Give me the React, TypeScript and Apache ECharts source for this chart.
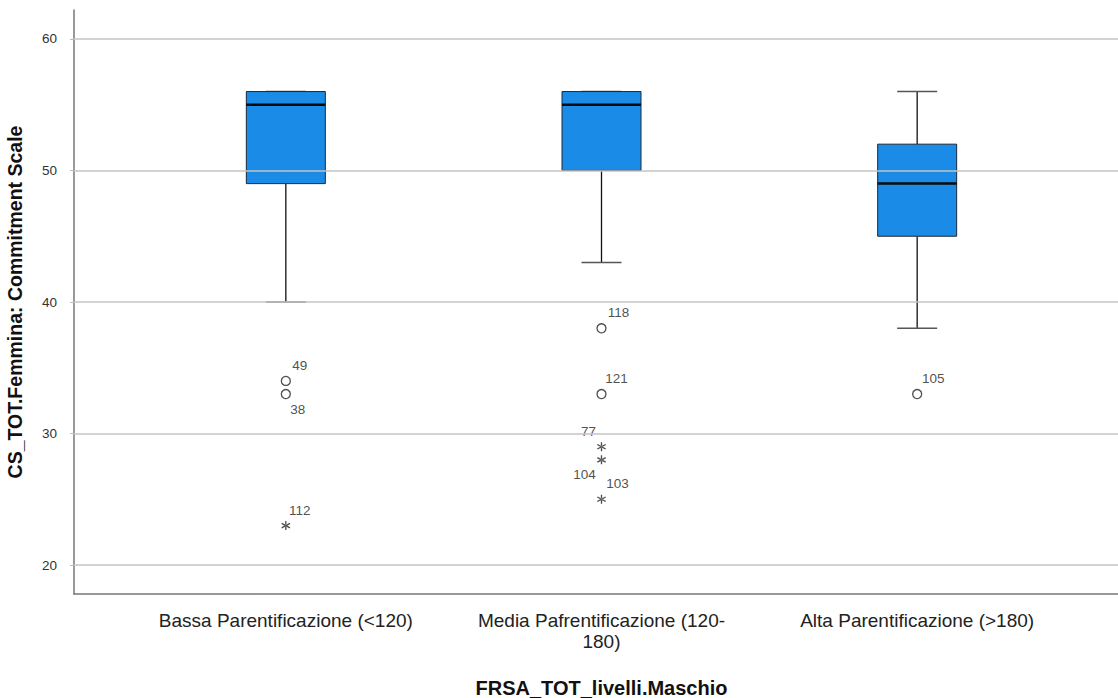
import React, { useEffect, useRef } from "react";
import * as echarts from "echarts";

const categories = [
  "Bassa Parentificazione (<120)",
  "Media Pafrentificazione (120-\n180)",
  "Alta Parentificazione (>180)",
];
// [low whisker, Q1, median, Q3, high whisker]
const boxValues = [
  [40, 49, 55, 56, 56],
  [43, 50, 55, 56, 56],
  [38, 45, 49, 52, 56],
];
// outliers: [categoryIndex, value, caseId]
const outliers = [
  [0, 34, "49"],
  [0, 33, "38"],
  [1, 38, "118"],
  [1, 33, "121"],
  [2, 33, "105"],
];
const extremes = [
  [0, 23, "112"],
  [1, 29, "77"],
  [1, 28, "104"],
  [1, 25, "103"],
];
const yTicks = [20, 30, 40, 50, 60];
const labelOffsets: Record<string, [number, number]> = {
  "49": [14, -15],
  "38": [12, 15],
  "112": [14, -15],
  "118": [17, -16],
  "121": [15, -16],
  "77": [-13, -15],
  "104": [-17, 15],
  "103": [16, -16],
  "105": [16, -16],
};

const Y_MIN = 17.8;
const Y_MAX = 62.2;
const asterisk =
  "path://M4.3 0 L5.7 0 L5.7 10 L4.3 10 Z M9.03 8.12 L9.73 6.88 L0.97 1.88 L0.27 3.12 Z M0.27 6.88 L0.97 8.12 L9.73 3.12 L9.03 1.88 Z";
const FONT = "Liberation Sans, Arial, sans-serif";

export default function App() {
  const ref = useRef<HTMLDivElement>(null);
  useEffect(() => {
    if (!ref.current) return;
    const chart = echarts.init(ref.current, null, { renderer: "svg" });
    const mkPoints = (arr: any[]) =>
      arr.map((o) => ({
        value: [o[0], o[1]],
        label: {
          show: true,
          formatter: o[2],
          position: "inside",
          offset: labelOffsets[o[2]],
          color: "#222",
          fontSize: 13.5,
          fontFamily: FONT,
        },
      }));
    chart.setOption({
      animation: false,
      backgroundColor: "#fff",
      grid: [
        { left: 74, right: 0, top: 10, bottom: 104, outerBoundsMode: "none", containLabel: false },
        { left: 128, right: 43, top: 10, bottom: 104, outerBoundsMode: "none", containLabel: false },
      ],
      xAxis: [
        {
          gridIndex: 0,
          type: "value",
          min: 0,
          max: 1,
          axisLine: { show: true, lineStyle: { color: "#777", width: 1.5 } },
          axisTick: { show: false },
          axisLabel: { show: false },
          splitLine: { show: false },
        },
        {
          gridIndex: 1,
          type: "category",
          data: categories,
          axisLine: { show: false },
          axisTick: { show: false },
          axisLabel: {
            interval: 0,
            hideOverlap: false,
            color: "#222",
            fontSize: 19,
            fontFamily: FONT,
            margin: 16,
            lineHeight: 21,
          },
          name: "FRSA_TOT_livelli.Maschio",
          nameLocation: "middle",
          nameGap: 84,
          nameTextStyle: {
            color: "#111",
            fontSize: 20,
            fontWeight: "bold",
            fontFamily: FONT,
          },
        },
      ],
      yAxis: [
        {
          gridIndex: 0,
          type: "value",
          min: Y_MIN,
          max: Y_MAX,
          axisLine: { show: true, lineStyle: { color: "#777", width: 1.5 } },
          axisTick: { show: true, customValues: yTicks, length: 4, lineStyle: { color: "#bbb" } },
          axisLabel: {
            customValues: yTicks,
            color: "#333",
            fontSize: 13.5,
            fontFamily: FONT,
            margin: 17,
          },
          splitLine: { show: false },
          name: "CS_TOT.Femmina: Commitment Scale",
          nameLocation: "middle",
          nameGap: 49,
          nameTextStyle: {
            color: "#111",
            fontSize: 19.5,
            fontWeight: "bold",
            fontFamily: FONT,
          },
        },
        {
          gridIndex: 1,
          type: "value",
          min: Y_MIN,
          max: Y_MAX,
          show: false,
          splitLine: { show: false },
        },
      ],
      series: [
        {
          type: "line",
          xAxisIndex: 0,
          yAxisIndex: 0,
          data: [],
          markLine: {
            silent: true,
            symbol: "none",
            label: { show: false },
            lineStyle: { color: "#c4c4c4", width: 1.5, type: "solid" },
            data: yTicks.map((t) => ({ yAxis: t })),
          },
        },
        {
          type: "custom",
          xAxisIndex: 1,
          yAxisIndex: 1,
          data: boxValues.map((b, i) => [i, ...b]),
          encode: { x: 0, y: [1, 2, 3, 4, 5] },
          renderItem: (params: any, api: any) => {
            const i = api.value(0);
            const lo = api.coord([i, api.value(1)]);
            const q1 = api.coord([i, api.value(2)]);
            const md = api.coord([i, api.value(3)]);
            const q3 = api.coord([i, api.value(4)]);
            const hi = api.coord([i, api.value(5)]);
            const x = lo[0];
            const bw = 79;
            const cw = 40;
            return {
              type: "group",
              children: [
                {
                  type: "line",
                  shape: { x1: x, y1: lo[1], x2: x, y2: q1[1] },
                  style: { stroke: "#111", lineWidth: 1.3 },
                },
                {
                  type: "line",
                  shape: { x1: x, y1: hi[1], x2: x, y2: q3[1] },
                  style: { stroke: "#111", lineWidth: 1.3 },
                },
                {
                  type: "line",
                  shape: { x1: x - cw / 2, y1: lo[1], x2: x + cw / 2, y2: lo[1] },
                  style: { stroke: "#555", lineWidth: 1.5 },
                },
                {
                  type: "line",
                  shape: { x1: x - cw / 2, y1: hi[1], x2: x + cw / 2, y2: hi[1] },
                  style: { stroke: "#555", lineWidth: 1.5 },
                },
                {
                  type: "rect",
                  shape: { x: x - bw / 2, y: q3[1], width: bw, height: q1[1] - q3[1] },
                  style: { fill: "#1a8be6", stroke: "#1b2a3a", lineWidth: 1 },
                },
                {
                  type: "line",
                  shape: { x1: x - bw / 2, y1: md[1], x2: x + bw / 2, y2: md[1] },
                  style: { stroke: "#0a0a0a", lineWidth: 2.5 },
                },
              ],
            };
          },
        },
        {
          type: "scatter",
          xAxisIndex: 1,
          yAxisIndex: 1,
          symbol: "circle",
          symbolSize: 9,
          itemStyle: { color: "#fff", borderColor: "#222", borderWidth: 1.3 },
          data: mkPoints(outliers),
        },
        {
          type: "scatter",
          xAxisIndex: 1,
          yAxisIndex: 1,
          symbol: asterisk,
          symbolSize: 9,
          itemStyle: { color: "#222" },
          data: mkPoints(extremes),
        },
      ],
    });
    return () => chart.dispose();
  }, []);
  return <div ref={ref} style={{ width: 1118, height: 698, position: "absolute", left: 0, top: 0 }} />;
}
